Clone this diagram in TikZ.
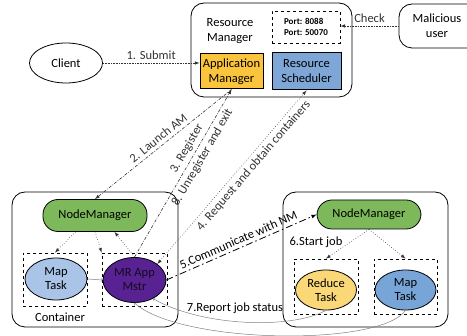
\documentclass[tikz,border=0pt]{standalone}
\usepackage{fontspec}
\setmainfont{Carlito}
\usetikzlibrary{arrows,shapes.geometric}

\definecolor{amyellow}{RGB}{250,196,60}
\definecolor{rsblue}{RGB}{126,166,214}
\definecolor{nmgreen}{RGB}{125,185,90}
\definecolor{taskblue}{RGB}{170,196,232}
\definecolor{mrpurple}{RGB}{88,34,146}
\definecolor{mrtext}{RGB}{20,10,30}
\definecolor{redyellow}{RGB}{250,216,120}
\definecolor{mapblue}{RGB}{120,165,215}

\tikzset{
  box/.style={draw, rounded corners=13pt, line width=0.8pt, align=center},
  role/.style={draw, line width=1pt, inner sep=1pt, align=center},
  nm/.style={draw, fill=nmgreen, rounded corners=15pt, line width=0.8pt,
    minimum width=104pt, minimum height=32pt},
  slot/.style={draw, dashed, line width=0.8pt},
  task/.style={ellipse, draw, line width=0.8pt, inner sep=0pt, align=center,
    minimum width=62pt, minimum height=42pt,
    font=\fontsize{12.5}{14}\selectfont},
  flow/.style={->, densely dotted, black!80},
  launch/.style={->, dash pattern=on 3pt off 1.5pt on 0.7pt off 1.5pt, black!80},
  comm/.style={->, line width=0.8pt, dash pattern=on 7pt off 3pt on 1.5pt off 3pt},
  report/.style={->, >=to, gray, line width=0.5pt}
}

\begin{document}
\begin{tikzpicture}[x=1pt, y=-1pt, >=latex, line width=0.6pt,
  font=\fontsize{12.5}{15}\selectfont]
  \useasboundingbox (0,0) rectangle (467,336);

  % resource manager
  \node[box, minimum width=161pt, minimum height=94pt] (rm) at (271.5,50) {};
  \node[align=center] (rmtext) at (230,31) {Resource\\Manager};
  \node[slot, minimum width=68pt, minimum height=32pt, align=left,
    font=\fontsize{9}{11}\selectfont\bfseries] (ports) at (306,27) {Port: 8088\\Port: 50070};
  \node[role, fill=amyellow, minimum width=63pt, minimum height=35pt] (am) at (231.5,71.5) {Application\\Manager};
  \node[role, fill=rsblue, minimum width=69pt, minimum height=37pt] (rs) at (306.5,71.5) {Resource\\Scheduler};

  % client and user
  \node[ellipse, draw, line width=0.8pt, minimum width=73pt, minimum height=40pt] (client) at (66,63) {Client};
  \node[box, minimum width=94pt, minimum height=44pt] (user) at (446,26) {};
  \node[align=center] (usertext) at (437,26) {Malicious\\user};

  % left container
  \node[box, minimum width=166pt, minimum height=135pt] (left) at (95,259.5) {};
  \node[nm] (lnm) at (95,215.5) {NodeManager};
  \node[slot, minimum width=64pt, minimum height=53pt] (mapslot) at (55,279.5) {};
  \node[task, fill=taskblue] (map) at (56,279) {Map\\Task};
  \node[slot, minimum width=65pt, minimum height=53pt] (mrslot) at (134.5,279.5) {};
  \node[task, fill=mrpurple, text=mrtext, minimum width=63pt, minimum height=45pt] (mr) at (134.5,280) {MR App\\Mstr};
  \node (ctext) at (60,317) {Container};

  % right container
  \node[box, minimum width=165pt, minimum height=135pt] (right) at (365.5,259.5) {};
  \node[nm, minimum height=29pt] (rnm) at (369,214.5) {NodeManager};
  \node[anchor=west] (start) at (286,242) {6.Start job};
  \node[slot, minimum width=64pt, minimum height=55pt] (redslot) at (326,286.5) {};
  \node[task, fill=redyellow, minimum width=61pt, minimum height=40pt] (red) at (326,290) {Reduce\\Task};
  \node[slot, minimum width=63pt, minimum height=55pt] (mapslot2) at (405.5,286.5) {};
  \node[task, fill=mapblue, minimum width=61pt, minimum height=40pt] (map2) at (405.5,290) {Map\\Task};

  % submit and check
  \draw[flow] (client.east) -- (client.east -| am.west) node[midway, above] {1. Submit};
  \draw[flow] (user.west) -- (user.west -| ports.east) node[midway, above] {Check};

  % AM, RM and containers
  \draw[launch] (am.south) -- (lnm.north) node[midway, sloped, above] {2. Launch AM};
  \draw[launch] (mr.north) -- (am.south)
    node[pos=0.62, sloped, above] {3. Register}
    node[pos=0.62, sloped, below] {8. Unregister and exit};
  \draw[flow, <->, dotted] (mr.35) -- (rs.south) node[pos=0.6, sloped, below] {4. Request and obtain containers};
  \draw[comm] (mr.east) -- (rnm.west) node[midway, sloped, above] {5.Communicate with NM};

  % inside left container
  \draw[flow, dotted] (lnm.220) -- (mapslot.north);
  \draw[flow, dotted] (lnm.south) -- (mrslot.north west);
  \draw[flow, dotted] (mr.north) -- (lnm.-40);
  \draw[report] (map.east) -- (mr.west);

  % inside right container
  \draw[flow, dotted] (rnm.south) -- (redslot.north);
  \draw[flow, dotted] (rnm.south) -- (mapslot2.north);

  % report job status
  \draw[report] (red.south) .. controls (290,330) and (200,326) .. (mr.-45);
  \draw[report] (map2.south) .. controls (380,347) and (180,344) .. (mr.south);
  \node (status) at (235,308) {7.Report job status};
\end{tikzpicture}
\end{document}
